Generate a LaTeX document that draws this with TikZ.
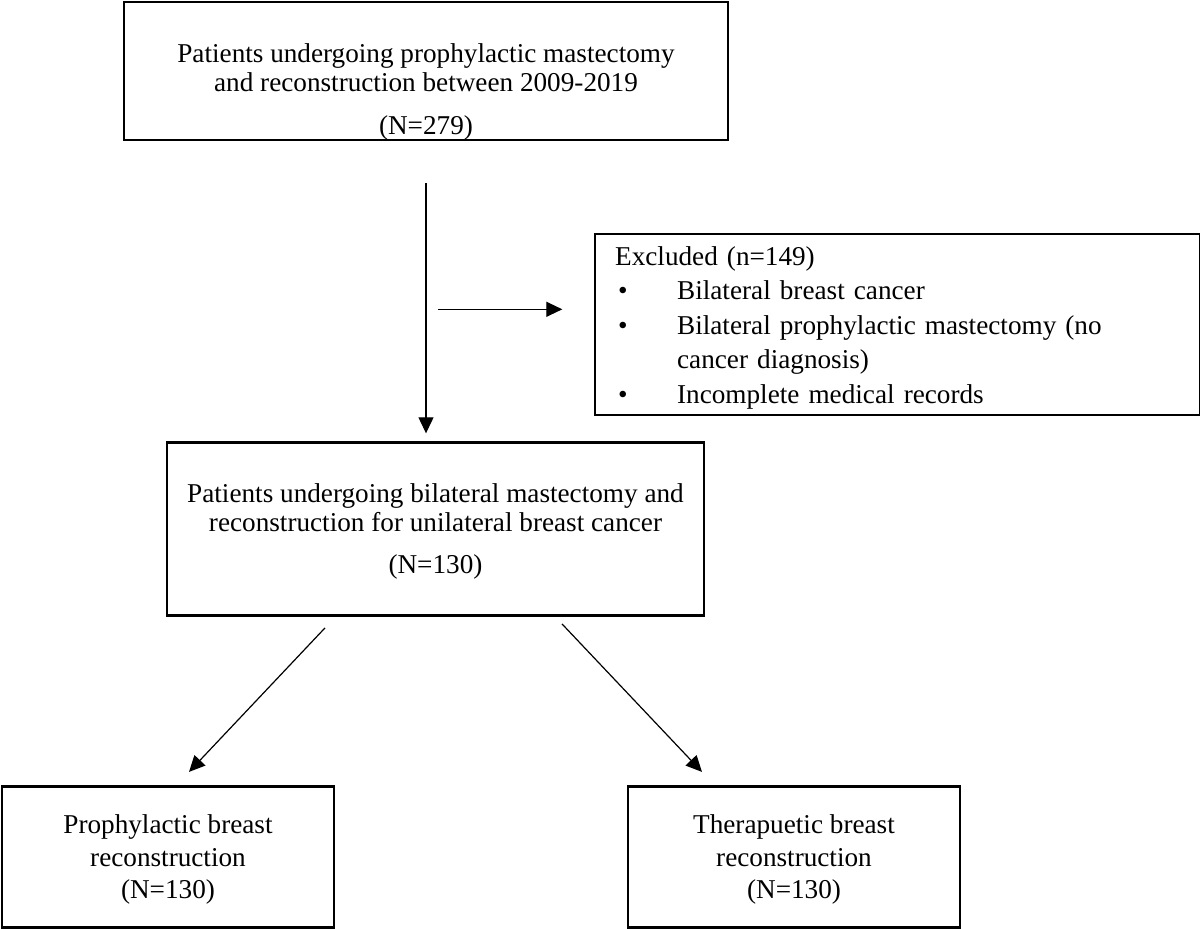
\documentclass[tikz,border=0pt]{standalone}
\usepackage{fontspec}
\setmainfont{Liberation Serif}
\usetikzlibrary{positioning,arrows.meta}

\begin{document}
\begin{tikzpicture}[
    x=0.5pt, y=-0.5pt,
    box_style/.style={draw=black, line width=1.3pt, fill=white, align=center, inner sep=0pt, font=\fontsize{13.6}{14.5}\selectfont},
    leaf_style/.style={box_style, minimum width=166pt, minimum height=70.5pt, font=\fontsize{13.6}{16.25}\selectfont},
    list_style/.style={draw=black, line width=0.85pt, fill=white, align=left, inner xsep=10pt, inner ysep=0pt, text width=282.5pt, minimum height=90.5pt, font=\fontsize{13.6}{17.25}\selectfont},
    arrow_style/.style={-{Triangle[length=8pt,width=7.5pt]}, line width=0.6pt}
]
\useasboundingbox[fill=white] (0,0) rectangle (1200,928);

% Start
\node[box_style, minimum width=302pt, minimum height=69pt] (T) at (426,71)
    {\rule{0pt}{30pt}Patients undergoing prophylactic mastectomy\\ and reconstruction between 2009-2019\\[7pt] (N=279)};

% Excluded
\node[list_style, below right=46pt and -67.5pt of T] (E)
    {\rule{0pt}{12.5pt}Excluded (n=149)\\
     \makebox[31pt][l]{\hspace{1.5pt}\textbullet}Bilateral breast cancer\\
     \makebox[31pt][l]{\hspace{1.5pt}\textbullet}Bilateral prophylactic mastectomy (no\\
     \hspace*{31pt}cancer diagnosis)\\
     \makebox[31pt][l]{\hspace{1.5pt}\textbullet}Incomplete medical records};

% Cohort
\node[box_style, below=150pt of T, xshift=4.75pt, minimum width=268.5pt, minimum height=86.5pt] (M)
    {\rule{0pt}{12pt}Patients undergoing bilateral mastectomy and\\ reconstruction for unilateral breast cancer\\[6.5pt] (N=130)};

% Groups
\node[leaf_style, below=84pt of M, xshift=-133.75pt] (L)
    {\rule{0pt}{12.5pt}Prophylactic breast\\ reconstruction\\ (N=130)};
\node[leaf_style, below=84pt of M, xshift=179.25pt] (R)
    {\rule{0pt}{12.5pt}Therapuetic breast\\ reconstruction\\ (N=130)};

% Edges
\draw[arrow_style, shorten <=21pt, shorten >=4pt] (T.south) -- (T.south |- M.north);
\coordinate (fork) at ([yshift=-84pt]T.south);
\draw[arrow_style, shorten <=6pt, shorten >=16pt] (fork) -- (fork -| E.west);
\draw[arrow_style] ([xshift=-55.25pt,yshift=-5.5pt]M.south) -- ([xshift=10.5pt,yshift=6.5pt]L.north);
\draw[arrow_style] ([xshift=63.25pt,yshift=-3.5pt]M.south) -- ([xshift=-46pt,yshift=6.5pt]R.north);

\end{tikzpicture}
\end{document}
